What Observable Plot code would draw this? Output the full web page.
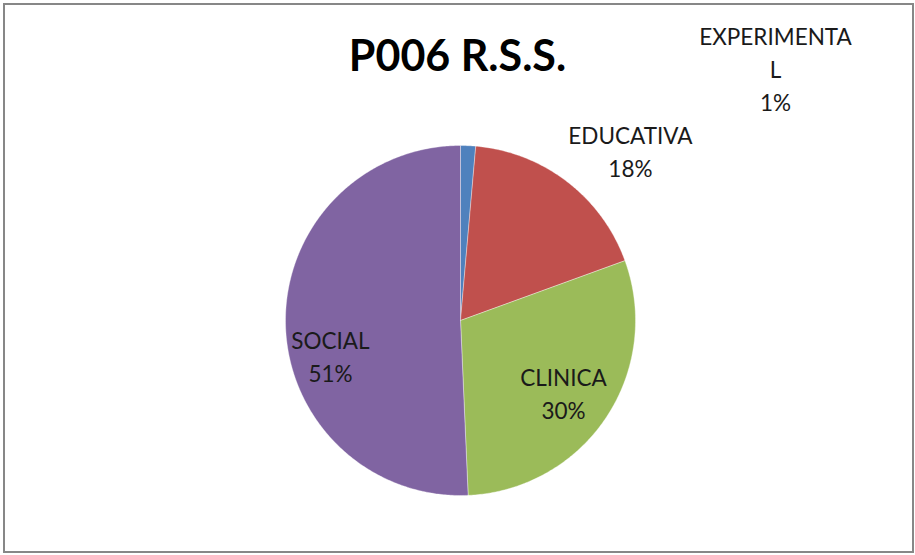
<!DOCTYPE html>
<html>
<head>
<meta charset="utf-8">
<script src="https://cdn.jsdelivr.net/npm/d3@7"></script>
<script src="https://cdn.jsdelivr.net/npm/@observablehq/plot@0.6"></script>
<style>
  html, body { margin: 0; padding: 0; background: #fff; }
  #wrap { position: relative; width: 915px; height: 555px; overflow: hidden; }
  #frame { position: absolute; left: 3px; top: 3px; width: 911px; height: 550px;
           box-sizing: border-box; border: 2px solid #878787; pointer-events: none; }
  #chart { position: absolute; left: 0; top: 0; }
</style>
</head>
<body>
<div id="wrap"><div id="chart"></div><div id="frame"></div></div>
<script>
// ---- data ----
const title = "P006 R.S.S.";
const categories = ["EXPERIMENTAL", "EDUCATIVA", "CLINICA", "SOCIAL"];
const counts = [2, 26, 43, 73];
const labelTexts = ["EXPERIMENTA\nL", "EDUCATIVA", "CLINICA", "SOCIAL"];
const colors = ["#4F81BD", "#C0504D", "#9BBB59", "#8064A2"];

// ---- layout (label anchors in polar form: degrees clockwise from 12 o'clock, radius multiple) ----
const labelAngle = [51.5, 45.3, 125.5, 254.3];
const labelRadius = [2.30, 1.366, 0.723, 0.772];
const labelFontSize = 22.5;

const total = d3.sum(counts);
const pie = d3.pie().sort(null).value(d => d)(counts);

// slice outlines (unit circle, y up)
const slicePts = [];
pie.forEach((p, i) => {
  const n = Math.max(4, Math.ceil((p.endAngle - p.startAngle) / 0.01));
  slicePts.push({name: categories[i], x: 0, y: 0});
  for (let k = 0; k <= n; k++) {
    const a = p.startAngle + (p.endAngle - p.startAngle) * k / n;
    slicePts.push({name: categories[i], x: Math.sin(a), y: Math.cos(a)});
  }
  slicePts.push({name: categories[i], x: 0, y: 0});
});

const labels = categories.map((c, i) => {
  const a = labelAngle[i] * Math.PI / 180;
  return {
    name: c,
    text: labelTexts[i] + "\n" + Math.round(counts[i] / total * 100) + "%",
    x: Math.sin(a) * labelRadius[i],
    y: Math.cos(a) * labelRadius[i]
  };
});

const chart = Plot.plot({
  width: 915,
  height: 555,
  marginLeft: 285,
  marginRight: 280,
  marginTop: 145,
  marginBottom: 60,
  x: {domain: [-1, 1], axis: null},
  y: {domain: [-1, 1], axis: null},
  color: {domain: categories, range: colors},
  style: {background: "white", overflow: "visible"},
  marks: [
    Plot.line(slicePts, {x: "x", y: "y", z: "name", fill: "name", stroke: "white",
      strokeWidth: 0.6, strokeOpacity: 0.6, curve: "linear"}),
    Plot.text(labels, {x: "x", y: "y", text: "text", fontFamily: "Lato", fontSize: labelFontSize,
      lineHeight: 33 / labelFontSize, lineAnchor: "middle", dy: -2.5, fill: "#1a1a1a"}),
    Plot.text([title], {frameAnchor: "top", dx: -3, dy: -88, text: d => d, fontFamily: "Lato",
      fontWeight: "bold", fontSize: 43, lineAnchor: "middle", fill: "#000"})
  ]
});
document.getElementById("chart").appendChild(chart);
</script>
</body>
</html>
